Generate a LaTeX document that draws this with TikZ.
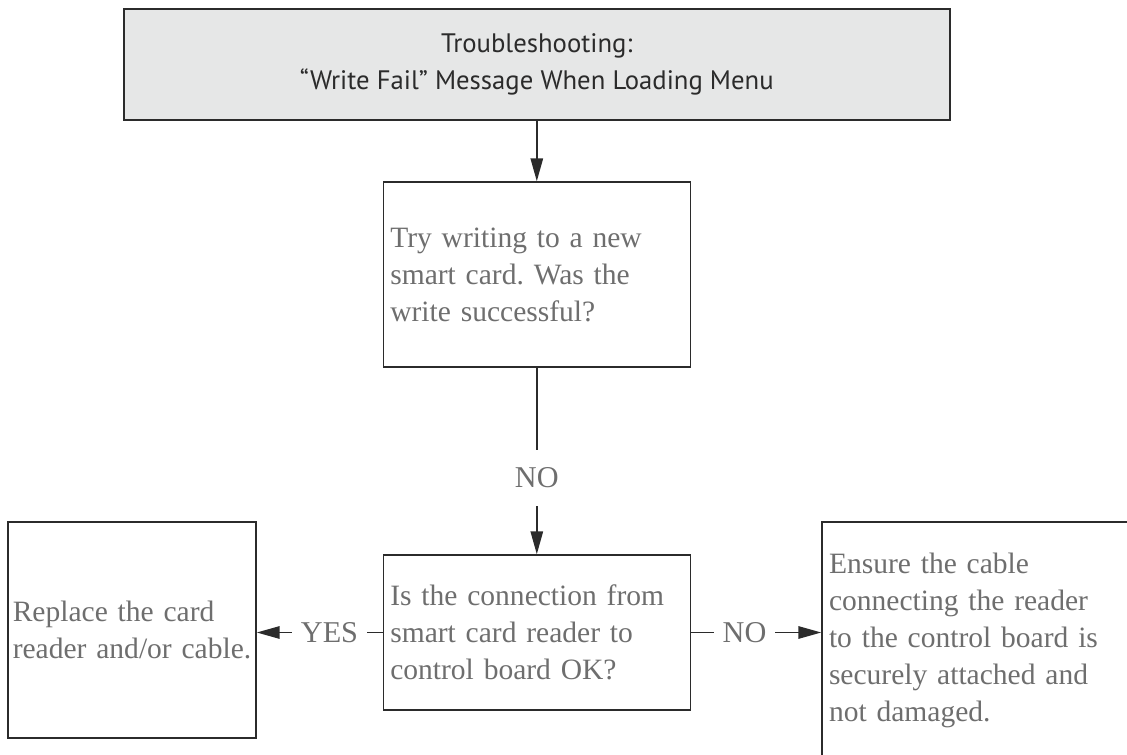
\documentclass[tikz,border=0pt]{standalone}
\usepackage{fontspec}
\setmainfont{Liberation Serif}
\newfontfamily\headfont{PT Sans}
\usetikzlibrary{arrows.meta, positioning}
\definecolor{boxline}{HTML}{2B2B2B}
\definecolor{bodytext}{HTML}{6E6E6E}
\definecolor{headfill}{HTML}{E6E7E7}
\frenchspacing
\hyphenpenalty=10000

\begin{document}
\begin{tikzpicture}[
		%inner sep=2mm,
		box/.style={rectangle, draw=boxline, line width=1.1pt, inner xsep=1.75mm, inner ysep=0pt, align=left, text=bodytext, font=\fontsize{21}{26.3}\selectfont},
		headbox/.style={rectangle, draw=boxline, fill=headfill, line width=1.5pt, align=center, text=boxline, font=\headfont\fontsize{19}{26.3}\selectfont},
		answer/.style={text=bodytext, inner xsep=2.2mm, inner ysep=4.4mm, font=\fontsize{21.5}{26.3}\selectfont},
		flow/.style={draw=boxline, line width=1.1pt},
		arrow/.style={flow, -{Triangle[length=5.7mm, width=3.1mm]}}
		]
		\path[use as bounding box, clip] (0, 0) rectangle (28.175, 18.85);
		\node at (13.42, 17.2375) [name=write fail, headbox, minimum width=20.65cm, minimum height=2.775cm] {Troubleshooting:\\“Write Fail” Message When Loading Menu};
		\node at (13.42, 11.9875) [name=try new card, box, text width=7.325cm, minimum height=4.625cm] {Try writing to a new\\smart card. Was the\\write successful?};
		\node at (13.42, 6.9) [name=no 1, answer] {NO};
		\node at (13.42, 3.0375) [name=check connection, box, text width=7.325cm, minimum height=3.875cm] {Is the connection from\\smart card reader to\\control board OK?};
		\node at (3.3, 3.1) [name=replace reader, box, inner xsep=1.2mm, text width=5.96cm, minimum height=5.4cm] {Replace the card\\\mbox{reader and/or cable.}};
		\node at (8.2375, 3.0375) [name=yes, answer] {YES};
		\node at (18.6125, 3.0375) [name=no 2, answer] {NO};
		\node at (24.8, 2.85) [name=secure cable, box, text width=8.15cm, minimum height=5.9cm] {Ensure the cable\\connecting the reader\\to the control board is\\securely attached and\\not damaged.};

		\draw[arrow] (write fail) -- (try new card);
		\draw[flow] (try new card) -- (no 1);
		\draw[arrow] (no 1) -- (check connection);
		\draw[flow] (check connection) -- (yes);
		\draw[arrow] (yes) -- (yes -| replace reader.east);
		\draw[flow] (check connection) -- (no 2);
		\draw[arrow] (no 2) -- (no 2 -| secure cable.west);
	\end{tikzpicture}
\end{document}
